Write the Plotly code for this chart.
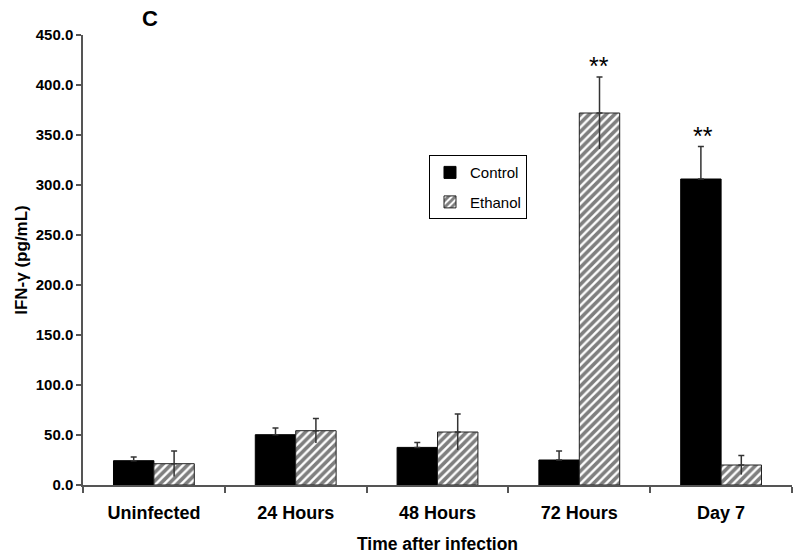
import plotly.graph_objects as go

categories = ["Uninfected", "24 Hours", "48 Hours", "72 Hours", "Day 7"]
control = [24.3, 50.3, 37.6, 25.0, 306.0]
control_err = [3.7, 6.7, 5.0, 9.0, 32.6]
ethanol = [21.3, 54.3, 53.0, 372.0, 20.0]
ethanol_err = [12.7, 12.3, 18.0, 36.0, 9.6]
y_ticks = [0, 50, 100, 150, 200, 250, 300, 350, 400, 450]

FONT = "Liberation Sans, Arial, sans-serif"
ERR_COLOR = "#333333"
AXIS_COLOR = "#555555"

fig = go.Figure()
fig.add_trace(go.Bar(
    name="Control", x=categories, y=control, offsetgroup="c", legendgroup="c",
    marker=dict(color="black", line=dict(color="black", width=1)),
    error_y=dict(type="data", array=control_err, arrayminus=[0]*5,
                 color=ERR_COLOR, thickness=1.5, width=3),
))
fig.add_trace(go.Bar(
    name="Ethanol", x=categories, y=ethanol, offsetgroup="e", legendgroup="e",
    marker=dict(color="white", line=dict(color="#222222", width=1),
                pattern=dict(shape="/", fgcolor="black", bgcolor="white",
                             size=6, solidity=0.6)),
    error_y=dict(type="data", array=ethanol_err, arrayminus=[0]*5,
                 color=ERR_COLOR, thickness=1.5, width=3),
))
# lower halves of the ethanol error bars (no caps), visible through the hatching
fig.add_trace(go.Bar(
    x=categories, y=ethanol, offsetgroup="e", showlegend=False, hoverinfo="skip",
    marker=dict(color="rgba(0,0,0,0)", line=dict(width=0)),
    error_y=dict(type="data", array=[0]*5, arrayminus=ethanol_err,
                 color=ERR_COLOR, thickness=1.5, width=0),
))

star_font = dict(family=FONT, size=25, color="black")
annotations = [
    dict(x="72 Hours", y=ethanol[3] + ethanol_err[3], xref="x", yref="y",
         text="**", showarrow=False, xshift=20, yshift=11, yanchor="middle",
         font=star_font),
    dict(x="Day 7", y=control[4] + control_err[4], xref="x", yref="y",
         text="**", showarrow=False, xshift=-18, yshift=10, yanchor="middle",
         font=star_font),
    dict(x=(150 - 83) / 709, y=(485 - 18) / 450, xref="paper", yref="paper",
         text="C", showarrow=False, xanchor="center", yanchor="middle",
         font=dict(family=FONT, size=22, color="black", weight="bold")),
]

fig.update_layout(
    width=800, height=556,
    margin=dict(l=83, r=8, t=35, b=71),
    paper_bgcolor="white", plot_bgcolor="white",
    barmode="group", bargap=0.43, bargroupgap=0,
    font=dict(family=FONT, color="black"),
    showlegend=True,
    legend=dict(x=0.488, y=0.733, xanchor="left", yanchor="top",
                bordercolor="black", borderwidth=1, bgcolor="white",
                font=dict(family=FONT, size=15, color="black"),
                itemwidth=30, tracegroupgap=7),
    annotations=annotations,
)
fig.update_xaxes(
    type="category", tickson="boundaries", ticks="outside", ticklen=6,
    tickcolor=AXIS_COLOR, tickwidth=1.5, automargin=False,
    showline=True, linecolor=AXIS_COLOR, linewidth=1.5,
    showgrid=False, ticklabelstandoff=11,
    tickfont=dict(family=FONT, size=18, color="black", weight="bold"),
    title=dict(text="Time after infection", standoff=15,
               font=dict(family=FONT, size=17.5, color="black", weight="bold")),
)
fig.update_yaxes(
    range=[0, 450], tickvals=y_ticks, tickformat=".1f",
    ticks="outside", ticklen=5, tickcolor=AXIS_COLOR, tickwidth=1.5,
    showline=True, linecolor=AXIS_COLOR, linewidth=1.5, automargin=False,
    showgrid=False, zeroline=False,
    tickfont=dict(family=FONT, size=15, color="black", weight="bold"),
    title=dict(text="IFN-γ (pg/mL)", standoff=4,
               font=dict(family=FONT, size=17, color="black", weight="bold")),
)

fig.write_html("out.html",
               config={"displayModeBar": False},
               post_script="document.body.style.margin='0';")
